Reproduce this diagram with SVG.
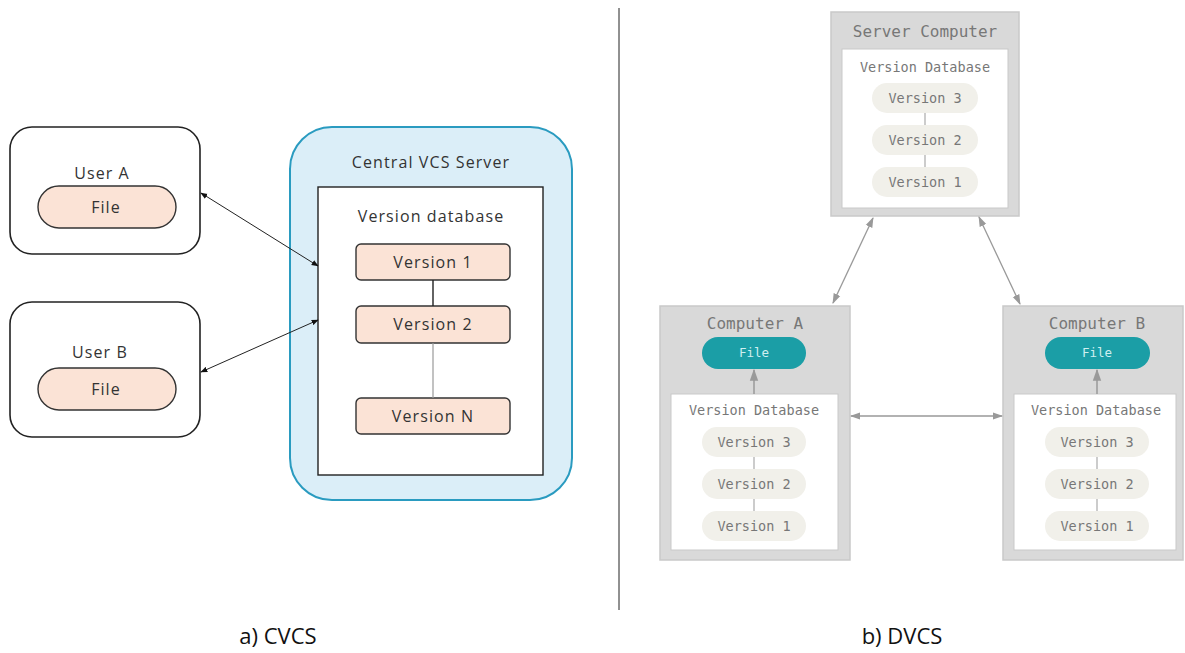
<svg xmlns="http://www.w3.org/2000/svg" width="1185" height="653" viewBox="0 0 1185 653">
<style>
.l{font-family:"Open Sans",Lato,"Liberation Sans",sans-serif;fill:#333;text-anchor:middle;letter-spacing:1.1px}
.m{font-family:"DejaVu Sans Mono","Liberation Mono",monospace;fill:#777;text-anchor:middle}
.user{fill:#fff;stroke:#222;stroke-width:1.6}
.pill{fill:#fbe3d6;stroke:#333;stroke-width:1.4}
.ver{fill:#fbe3d6;stroke:#333;stroke-width:1.4}
.outer{fill:#d9d9d9;stroke:#c9c9c9;stroke-width:1.5}
.inner{fill:#fff;stroke:#c9c9c9;stroke-width:1}
.vp{fill:#f1f0ea}
.tf{fill:#1b9ea6}
.g{stroke:#aaa;stroke-width:1.2;fill:none}
</style>
<defs>
<marker id="ak" viewBox="0 0 10 10" refX="9" refY="5" markerWidth="7" markerHeight="7" orient="auto-start-reverse"><path d="M0,1 L10,5 L0,9 z" fill="#111"/></marker>
<marker id="ag" viewBox="0 0 10 10" refX="9" refY="5" markerWidth="8" markerHeight="8" orient="auto-start-reverse"><path d="M0,1.5 L10,5 L0,8.5 z" fill="#999"/></marker>
</defs>
<rect width="1185" height="653" fill="#fff"/>
<line x1="619" y1="8" x2="619" y2="610" stroke="#222" stroke-width="1"/>

<g id="userA">
<rect class="user" x="10" y="127" width="190" height="127" rx="22"/>
<text class="l" x="102" y="179" font-size="16">User A</text>
<rect class="pill" x="38" y="186" width="138" height="42" rx="21"/>
<text class="l" x="106" y="213" font-size="16">File</text>
</g>
<g id="userB">
<rect class="user" x="10" y="302" width="190" height="135" rx="22"/>
<text class="l" x="100" y="358" font-size="16">User B</text>
<rect class="pill" x="38" y="368" width="138" height="42" rx="21"/>
<text class="l" x="106" y="395" font-size="16">File</text>
</g>
<g id="central">
<rect x="290" y="127" width="282" height="373" rx="42" fill="#dbeef8" stroke="#2a9bc0" stroke-width="2"/>
<text class="l" x="431" y="168" font-size="16">Central VCS Server</text>
<rect x="318" y="187" width="225" height="288" fill="#fff" stroke="#222" stroke-width="1.4"/>
<text class="l" x="431" y="222" font-size="16">Version database</text>
</g>
<g id="v1"><rect class="ver" x="356" y="244" width="154" height="36" rx="5"/><text class="l" x="433" y="268" font-size="16">Version 1</text></g>
<g id="v2"><rect class="ver" x="356" y="306" width="154" height="37" rx="5"/><text class="l" x="433" y="330" font-size="16">Version 2</text></g>
<g id="vn"><rect class="ver" x="356" y="398" width="154" height="36" rx="5"/><text class="l" x="433" y="422" font-size="16">Version N</text></g>

<g id="server">
<rect class="outer" x="831" y="12" width="188" height="204"/>
<text class="m" x="925" y="37" font-size="16">Server Computer</text>
<rect class="inner" x="842" y="49" width="166" height="159"/>
<text class="m" x="925" y="72" font-size="13.5">Version Database</text>
<rect class="vp" x="872" y="83" width="106" height="30" rx="15"/><text class="m" x="925" y="103" font-size="13.5">Version 3</text>
<rect class="vp" x="872" y="125" width="106" height="30" rx="15"/><text class="m" x="925" y="145" font-size="13.5">Version 2</text>
<rect class="vp" x="872" y="167" width="106" height="30" rx="15"/><text class="m" x="925" y="187" font-size="13.5">Version 1</text>
</g>
<g id="compA">
<rect class="outer" x="660" y="306" width="190" height="254"/>
<text class="m" x="755" y="329" font-size="16">Computer A</text>
<rect class="tf" x="702" y="337" width="104" height="32" rx="16"/>
<text class="m" x="754" y="357" font-size="12.5" style="fill:#cfeff0">File</text>
<rect class="inner" x="671" y="394" width="167" height="156"/>
<text class="m" x="754" y="415" font-size="13.5">Version Database</text>
<rect class="vp" x="702" y="427" width="104" height="30" rx="15"/><text class="m" x="754" y="447" font-size="13.5">Version 3</text>
<rect class="vp" x="702" y="469" width="104" height="30" rx="15"/><text class="m" x="754" y="489" font-size="13.5">Version 2</text>
<rect class="vp" x="702" y="511" width="104" height="30" rx="15"/><text class="m" x="754" y="531" font-size="13.5">Version 1</text>
</g>
<g id="compB">
<rect class="outer" x="1003" y="306" width="180" height="254"/>
<text class="m" x="1097" y="329" font-size="16">Computer B</text>
<rect class="tf" x="1045" y="337" width="105" height="32" rx="16"/>
<text class="m" x="1097" y="357" font-size="12.5" style="fill:#cfeff0">File</text>
<rect class="inner" x="1014" y="394" width="162" height="156"/>
<text class="m" x="1096" y="415" font-size="13.5">Version Database</text>
<rect class="vp" x="1045" y="427" width="104" height="30" rx="15"/><text class="m" x="1097" y="447" font-size="13.5">Version 3</text>
<rect class="vp" x="1045" y="469" width="104" height="30" rx="15"/><text class="m" x="1097" y="489" font-size="13.5">Version 2</text>
<rect class="vp" x="1045" y="511" width="104" height="30" rx="15"/><text class="m" x="1097" y="531" font-size="13.5">Version 1</text>
</g>

<g id="connectors">
<line x1="201" y1="193" x2="318" y2="266" stroke="#222" stroke-width="1" marker-start="url(#ak)" marker-end="url(#ak)"/>
<line x1="201" y1="372" x2="318" y2="320" stroke="#222" stroke-width="1" marker-start="url(#ak)" marker-end="url(#ak)"/>
<line x1="433" y1="280" x2="433" y2="306" stroke="#222" stroke-width="1.4"/>
<line x1="433" y1="343" x2="433" y2="398" stroke="#999" stroke-width="1.2"/>
<line x1="925" y1="113" x2="925" y2="125" class="g"/>
<line x1="925" y1="155" x2="925" y2="167" class="g"/>
<line x1="754" y1="457" x2="754" y2="469" class="g"/>
<line x1="754" y1="499" x2="754" y2="511" class="g"/>
<line x1="1097" y1="457" x2="1097" y2="469" class="g"/>
<line x1="1097" y1="499" x2="1097" y2="511" class="g"/>
<line x1="754" y1="394" x2="754" y2="370" stroke="#999" stroke-width="1.5" marker-end="url(#ag)"/>
<line x1="1097" y1="394" x2="1097" y2="370" stroke="#999" stroke-width="1.5" marker-end="url(#ag)"/>
<line x1="873" y1="218" x2="833" y2="303" stroke="#999" stroke-width="1.3" marker-start="url(#ag)" marker-end="url(#ag)"/>
<line x1="979" y1="217" x2="1020" y2="304" stroke="#999" stroke-width="1.3" marker-start="url(#ag)" marker-end="url(#ag)"/>
<line x1="851" y1="416" x2="1002" y2="416" stroke="#999" stroke-width="1.3" marker-start="url(#ag)" marker-end="url(#ag)"/>
</g>

<text class="l" x="278" y="644" font-size="22" style="fill:#111;letter-spacing:0">a) CVCS</text>
<text class="l" x="902" y="644" font-size="22" style="fill:#111;letter-spacing:0">b) DVCS</text>
</svg>
